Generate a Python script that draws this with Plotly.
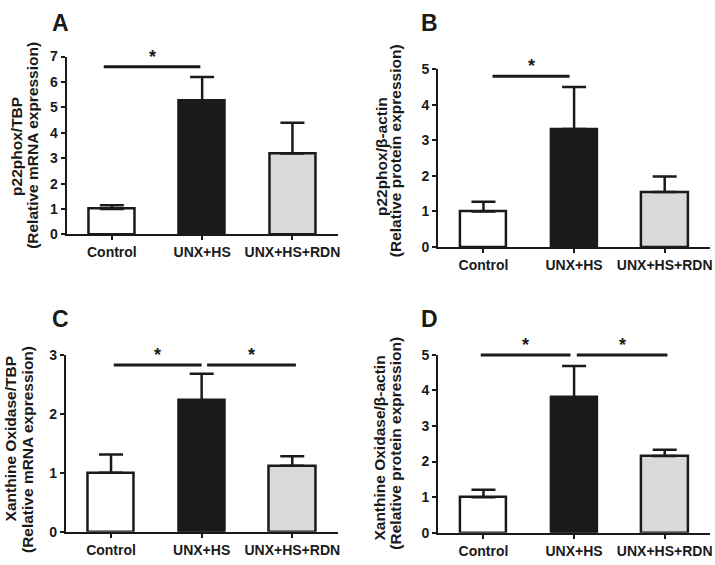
import plotly.graph_objects as go

categories = ["Control", "UNX+HS", "UNX+HS+RDN"]
positions = [0, 1, 2]

# Panel A: p22phox mRNA
a_values = [1.0, 5.28, 3.18]
a_err = [0.15, 0.92, 1.22]
# Panel B: p22phox protein
b_values = [1.0, 3.32, 1.55]
b_err = [0.27, 1.18, 0.43]
# Panel C: Xanthine oxidase mRNA
c_values = [1.0, 2.23, 1.12]
c_err = [0.31, 0.45, 0.16]
# Panel D: Xanthine oxidase protein
d_values = [1.0, 3.81, 2.16]
d_err = [0.21, 0.88, 0.17]

# significance brackets: (x_start, x_end, y) in category / data units
a_sig = [(-0.09, 0.98, 6.6)]
b_sig = [(0.10, 0.95, 4.8)]
c_sig = [(0.03, 1.0, 2.83), (1.06, 2.04, 2.83)]
d_sig = [(-0.03, 0.96, 5.0), (1.03, 2.03, 5.0)]

a_yticks = [0, 1, 2, 3, 4, 5, 6, 7]
b_yticks = [0, 1, 2, 3, 4, 5]
c_yticks = [0, 1, 2, 3]
d_yticks = [0, 1, 2, 3, 4, 5]

titles = {
    "A": ("p22phox/TBP", "(Relative mRNA expression)"),
    "B": ("p22phox/β-actin", "(Relative protein expression)"),
    "C": ("Xanthine Oxidase/TBP", "(Relative mRNA expression)"),
    "D": ("Xanthine Oxidase/β-actin", "(Relative protein expression)"),
}

W, H = 715, 565
INK = "#1a1a1a"
FONT = "Liberation Sans"
bar_colors = ["#ffffff", "#1a1a1a", "#d9d9d9"]
XMIN, XMAX = -0.5, 2.5

# pixel layout for each panel
panels = {
    "A": dict(px=(67, 339), py=(50, 233), vals=a_values, err=a_err, sig=a_sig, ticks=a_yticks,
              t1=(17, 142), t2=(32, 141), letter=(61, 15)),
    "B": dict(px=(440, 713), py=(63, 246), vals=b_values, err=b_err, sig=b_sig, ticks=b_yticks,
              t1=(383, 153), t2=(398, 147), letter=(431, 15)),
    "C": dict(px=(66, 339), py=(357, 539), vals=c_values, err=c_err, sig=c_sig, ticks=c_yticks,
              t1=(11, 443), t2=(27, 454), letter=(61, 320)),
    "D": dict(px=(440, 713), py=(357, 540), vals=d_values, err=d_err, sig=d_sig, ticks=d_yticks,
              t1=(381, 453), t2=(397, 448), letter=(431, 320)),
}

fig = go.Figure()
annotations = []
shapes = []
layout = {}

for i, (key, p) in enumerate(panels.items(), start=1):
    xa = "x" if i == 1 else f"x{i}"
    ya = "y" if i == 1 else f"y{i}"
    xname = "xaxis" if i == 1 else f"xaxis{i}"
    yname = "yaxis" if i == 1 else f"yaxis{i}"
    ymax = max(p["ticks"])

    fig.add_trace(go.Bar(
        x=positions, y=p["vals"], width=0.51,
        marker=dict(color=bar_colors, line=dict(color=INK, width=2.5)),
        error_y=dict(type="data", symmetric=False, array=p["err"],
                     arrayminus=[0] * len(p["err"]), thickness=2.5, width=12, color=INK),
        xaxis=xa, yaxis=ya, showlegend=False, hoverinfo="skip",
    ))

    axis_common = dict(showline=True, linecolor=INK, linewidth=2, ticks="outside",
                       ticklen=4, tickwidth=2, tickcolor=INK, showgrid=False, zeroline=False,
                       tickfont=dict(family=FONT, size=14, color=INK, weight="bold"))
    layout[xname] = dict(domain=[p["px"][0] / W, p["px"][1] / W], range=[XMIN, XMAX],
                         tickvals=positions, ticktext=categories, anchor=ya, fixedrange=True,
                         **axis_common)
    layout[yname] = dict(domain=[1 - p["py"][1] / H, 1 - p["py"][0] / H],
                         range=[0, ymax], tickvals=p["ticks"], anchor=xa, fixedrange=True,
                         **axis_common)

    for (xs, xe, yv) in p["sig"]:
        # domain references keep the line from being clipped at the top of the plot area
        shapes.append(dict(type="line", xref=f"{xa} domain", yref=f"{ya} domain",
                           x0=(xs - XMIN) / (XMAX - XMIN), x1=(xe - XMIN) / (XMAX - XMIN),
                           y0=yv / ymax, y1=yv / ymax,
                           line=dict(color=INK, width=3)))
        annotations.append(dict(xref=xa, yref=ya, x=(xs + xe) / 2, y=yv, text="*",
                                showarrow=False, yanchor="bottom", yshift=-2,
                                font=dict(family=FONT, size=18, color=INK, weight="bold")))

    l1, l2 = titles[key]
    for txt, (cx, cy) in ((l1, p["t1"]), (l2, p["t2"])):
        annotations.append(dict(xref="paper", yref="paper", x=cx / W, y=1 - cy / H,
                                text=txt, textangle=-90, showarrow=False,
                                xanchor="center", yanchor="middle",
                                font=dict(family=FONT, size=15.5, color=INK, weight="bold")))
    annotations.append(dict(xref="paper", yref="paper", x=p["letter"][0] / W,
                            y=1 - p["letter"][1] / H, text=key, showarrow=False,
                            xanchor="center", yanchor="middle",
                            font=dict(family=FONT, size=23, color=INK, weight="bold")))

fig.update_layout(width=W, height=H, margin=dict(l=0, r=0, t=0, b=0),
                  plot_bgcolor="white", paper_bgcolor="white", showlegend=False,
                  annotations=annotations, shapes=shapes, bargap=0, **layout)

fig.write_html("out.html", config={"displayModeBar": False},
               post_script="document.body.style.margin='0';document.body.style.overflow='hidden';")
